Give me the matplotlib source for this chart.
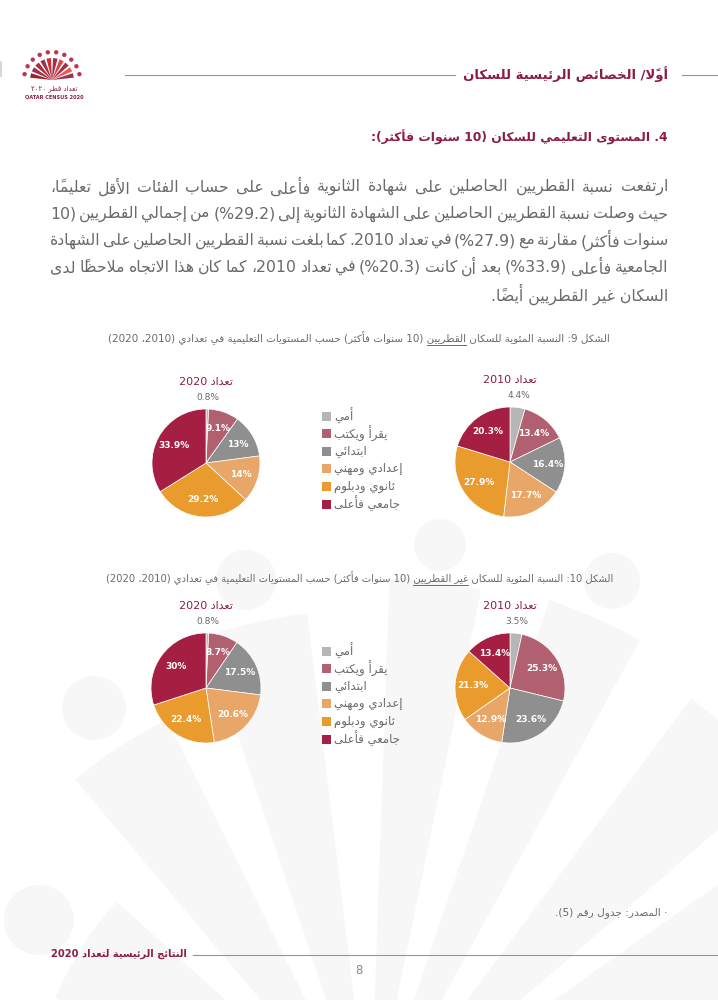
import re
import numpy as np
import matplotlib
matplotlib.use('Agg')
import matplotlib.pyplot as plt
from matplotlib.patches import Rectangle, Circle, Polygon

plt.rcParams['font.family'] = ['DejaVu Sans']

# ---- data -------------------------------------------------------------
levels = ['أمي', 'يقرأ ويكتب', 'ابتدائي', 'إعدادي ومهني', 'ثانوي ودبلوم', 'جامعي فأعلى']
qatari_2020 = [0.8, 9.1, 13, 14, 29.2, 33.9]
qatari_2010 = [4.4, 13.4, 16.4, 17.7, 27.9, 20.3]
nonqatari_2020 = [0.8, 8.7, 17.5, 20.6, 22.4, 30]
nonqatari_2010 = [3.5, 25.3, 23.6, 12.9, 21.3, 13.4]
census_titles = ['تعداد 2020', 'تعداد 2010']

header_title = 'أولاً/ الخصائص الرئيسية للسكان'
section_title = '4. المستوى التعليمي للسكان (10 سنوات فأكثر):'
paragraph = [
    'ارتفعت نسبة القطريين الحاصلين على شهادة الثانوية فأعلى على حساب الفئات الأقل تعليماً،',
    'حيث وصلت نسبة القطريين الحاصلين على الشهادة الثانوية إلى (29.2%) من إجمالي القطريين (10',
    'سنوات فأكثر) مقارنة مع (27.9%) في تعداد 2010. كما بلغت نسبة القطريين الحاصلين على الشهادة',
    'الجامعية فأعلى (33.9%) بعد أن كانت (20.3%) في تعداد 2010، كما كان هذا الاتجاه ملاحظاً لدى',
    'السكان غير القطريين أيضاً.',
]
caption_9 = ['الشكل 9: النسبة المئوية للسكان ', 'القطريين',
             ' (10 سنوات فأكثر) حسب المستويات التعليمية في تعدادي (2010، 2020)']
caption_10 = ['الشكل 10: النسبة المئوية للسكان ', 'غير القطريين',
              ' (10 سنوات فأكثر) حسب المستويات التعليمية في تعدادي (2010، 2020)']
source_note = '· المصدر: جدول رقم (5).'
footer_text = 'النتائج الرئيسية لتعداد 2020'
page_number = '8'
logo_ar = 'تعداد قطر ٢٠٢٠'
logo_en = 'QATAR CENSUS 2020'

level_colors = ['#b6b6b6', '#b0606f', '#8f8f8f', '#e8a768', '#e99b2d', '#a41f41']
maroon = '#8c1d40'
grey_text = '#6a6a6a'

# ---- minimal arabic shaping + right-to-left ordering --------------------
_AR = [('ء', 0xFE80, 1), ('آ', 0xFE81, 2), ('أ', 0xFE83, 2), ('ؤ', 0xFE85, 2),
       ('إ', 0xFE87, 2), ('ئ', 0xFE89, 4), ('ا', 0xFE8D, 2), ('ب', 0xFE8F, 4),
       ('ة', 0xFE93, 2), ('ت', 0xFE95, 4), ('ث', 0xFE99, 4), ('ج', 0xFE9D, 4),
       ('ح', 0xFEA1, 4), ('خ', 0xFEA5, 4), ('د', 0xFEA9, 2), ('ذ', 0xFEAB, 2),
       ('ر', 0xFEAD, 2), ('ز', 0xFEAF, 2), ('س', 0xFEB1, 4), ('ش', 0xFEB5, 4),
       ('ص', 0xFEB9, 4), ('ض', 0xFEBD, 4), ('ط', 0xFEC1, 4), ('ظ', 0xFEC5, 4),
       ('ع', 0xFEC9, 4), ('غ', 0xFECD, 4), ('ف', 0xFED1, 4), ('ق', 0xFED5, 4),
       ('ك', 0xFED9, 4), ('ل', 0xFEDD, 4), ('م', 0xFEE1, 4), ('ن', 0xFEE5, 4),
       ('ه', 0xFEE9, 4), ('و', 0xFEED, 2), ('ى', 0xFEEF, 2), ('ي', 0xFEF1, 4)]
JOIN = {c: (first, n) for c, first, n in _AR}
LAM_ALEF = {'آ': 0xFEF5, 'أ': 0xFEF7, 'إ': 0xFEF9, 'ا': 0xFEFB}
MARKS = set(chr(c) for c in range(0x064B, 0x0653))


def nforms(c):
    return JOIN.get(c, (0, 0))[1]


def shape(s):
    out = []
    i, n = 0, len(s)
    while i < n:
        c = s[i]
        if c not in JOIN:
            out.append(c)
            i += 1
            continue
        k = i - 1
        while k >= 0 and s[k] in MARKS:
            k -= 1
        p = s[k] if k >= 0 else ''
        j = i + 1
        while j < n and s[j] in MARKS:
            j += 1
        nx = s[j] if j < n else ''
        jp = nforms(p) == 4 and nforms(c) > 1
        if c == 'ل' and nx in LAM_ALEF:
            out.append(chr(LAM_ALEF[nx] + (1 if jp else 0)))
            out.extend(s[i + 1:j])
            i = j + 1
            continue
        jn = nforms(c) == 4 and nforms(nx) > 1
        first, m = JOIN[c]
        if m == 1:
            idx = 0
        elif m == 2:
            idx = 1 if jp else 0
        else:
            idx = 3 if (jp and jn) else 1 if jp else 2 if jn else 0
        out.append(chr(first + idx))
        i += 1
    return ''.join(out)


MIRROR = {'(': ')', ')': '('}
TOKENS = re.compile('[0-9A-Za-z\u0660-\u0669]+(?:[.,][0-9\u0660-\u0669]+)*|.[\u064B-\u0652]*')


def ar(s):
    toks = TOKENS.findall(shape(s))
    return ''.join(MIRROR.get(t, t) for t in reversed(toks))


# ---- page --------------------------------------------------------------
W, H = 718, 1000
fig = plt.figure(figsize=(W / 100, H / 100), dpi=100)
bg = fig.add_axes([0, 0, 1, 1])
bg.set_xlim(0, W)
bg.set_ylim(H, 0)
bg.axis('off')
renderer = fig.canvas.get_renderer()


def width_of(t):
    return t.get_window_extent(renderer).width


def put(x, y, s, size, color, ha='right', weight='normal', fit=None):
    t = bg.text(x, y, s, fontsize=size, color=color, ha=ha, va='center',
                fontweight=weight)
    if fit:
        t.set_fontsize(size * fit / width_of(t))
    return t


# faint census watermark: broad rays fanning from below the page, each with a dot
wm = '#f7f7f7'
origin = np.array([370.0, 1130.0])
heads = [(39, 920, 35), (94, 708, 32), (246, 580, 30), (440, 545, 26),
         (612, 581, 28), (770, 700, 34), (820, 900, 38)]
for hx, hy, hr in heads:
    d = np.array([hx, hy]) - origin
    dist = np.hypot(*d)
    ang = np.arctan2(d[1], d[0])
    half = np.arctan(hr * 1.9 / dist)
    reach = dist - hr * 1.45
    arc = np.linspace(ang - half, ang + half, 12)
    pts = [origin] + [origin + reach * np.array([np.cos(a), np.sin(a)]) for a in arc]
    bg.add_patch(Polygon(pts, closed=True, color=wm, lw=0, zorder=0))
    bg.add_patch(Circle((hx, hy), hr, color=wm, lw=0, zorder=0))

# small page-edge mark
bg.plot([1, 1], [62, 76], color='#cfcfcf', lw=1.2)

# logo
lc = np.array([52.0, 80.0])
for k, a in enumerate(np.linspace(12, 168, 10)):
    a1, a2 = np.deg2rad(a - 6), np.deg2rad(a + 6)
    col = plt.cm.Reds(0.55 + 0.04 * k) if k % 2 else maroon
    bg.add_patch(Polygon([lc, lc + 22 * np.array([np.cos(a1), -np.sin(a1)]),
                          lc + 22 * np.array([np.cos(a2), -np.sin(a2)])],
                         closed=True, color=col, lw=0, alpha=0.9))
    p = lc + 28 * np.array([np.cos(np.deg2rad(a)), -np.sin(np.deg2rad(a))])
    bg.add_patch(Circle(p, 2.2, color='#c0344e', lw=0))
bg.text(54, 89, ar(logo_ar), fontsize=5, color=maroon, ha='center', va='center')
bg.text(54, 97, logo_en, fontsize=3.6, color=maroon, ha='center', va='center',
        fontweight='bold')

# header
line_col = '#b58594'
bg.plot([125, 455], [75, 75], color=line_col, lw=0.8)
bg.plot([682, 718], [75, 75], color=line_col, lw=0.8)
put(668, 74, ar(header_title), 10, maroon, weight='bold', fit=205)

# section title
put(668, 137, ar(section_title), 14, maroon, weight='bold', fit=300)

# paragraph, justified between x=50 and x=668
vis_lines = [ar(s) for s in paragraph]
probe = bg.text(0, 0, vis_lines[0], fontsize=11)
para_size = 11 * 598 / width_of(probe)
probe.remove()
for i, line in enumerate(vis_lines):
    y = 187 + i * 26.8
    if i == len(vis_lines) - 1:
        put(668, y, line, para_size, grey_text)
        continue
    words = line.split(' ')
    texts = [bg.text(0, y, w, fontsize=para_size, color=grey_text, ha='left', va='center')
             for w in words]
    widths = [width_of(t) for t in texts]
    gap = (668 - 50 - sum(widths)) / (len(words) - 1)
    x = 50
    for t, w in zip(texts, widths):
        t.set_x(x)
        x += w + gap


def caption(parts, y, x0, x1):
    full = ''.join(parts)
    t = put(x1, y, ar(full), 9, grey_text, fit=x1 - x0)
    size = t.get_fontsize()
    pr = bg.text(0, 0, ar(parts[0]), fontsize=size)
    pw = bg.text(0, 0, ar(parts[1]), fontsize=size)
    w0, w1 = width_of(pr), width_of(pw)
    pr.remove()
    pw.remove()
    bg.plot([x1 - w0 - w1, x1 - w0], [y + 7, y + 7], color=grey_text, lw=0.7)


def draw_pie(cx, cy, r, values, title):
    s = 2 * r * 1.45
    ax = fig.add_axes([(cx - s / 2) / W, 1 - (cy + s / 2) / H, s / W, s / H])
    wedges, _ = ax.pie(values, colors=level_colors, startangle=90, counterclock=False,
                       radius=1, wedgeprops=dict(edgecolor='white', linewidth=0.5))
    ax.set_xlim(-1.45, 1.45)
    ax.set_ylim(-1.45, 1.45)
    ax.axis('off')
    for w, v in zip(wedges, values):
        a = np.deg2rad((w.theta1 + w.theta2) / 2)
        if v < 5:
            ax.text(1.13 * np.cos(a), 1.13 * np.sin(a), f'{v:g}%', ha='center',
                    va='bottom', fontsize=6.5, color=grey_text)
        else:
            ax.text(0.68 * np.cos(a), 0.68 * np.sin(a), f'{v:g}%', ha='center',
                    va='center', fontsize=6.5, color='white', fontweight='bold')
    bg.text(cx, cy - r - 27, ar(title), fontsize=8, color=maroon, ha='center',
            va='center')


def draw_legend(y0):
    for i, (lab, col) in enumerate(zip(levels, level_colors)):
        y = y0 + i * 17.6
        bg.add_patch(Rectangle((322, y - 4.5), 9, 9, color=col, lw=0))
        bg.text(334, y, ar(lab), ha='left', va='center', fontsize=8.5, color=grey_text)


# figure 9 (Qatari)
caption(caption_9, 338, 108, 610)
draw_pie(206, 463, 54, qatari_2020, census_titles[0])
draw_pie(510, 462, 55, qatari_2010, census_titles[1])
draw_legend(416)

# figure 10 (non-Qatari)
caption(caption_10, 578, 103, 613)
draw_pie(206, 688, 55, nonqatari_2020, census_titles[0])
draw_pie(510, 688, 55, nonqatari_2010, census_titles[1])
draw_legend(651)

# source note and footer
put(667, 913, ar(source_note), 7, grey_text, fit=112)
put(187, 954, ar(footer_text), 9, maroon, weight='bold', fit=137)
bg.plot([193, 718], [955, 955], color=line_col, lw=0.8)
bg.text(359, 970, page_number, fontsize=8.5, color='#888888', ha='center', va='center')

fig.savefig('out.png', dpi=100)
